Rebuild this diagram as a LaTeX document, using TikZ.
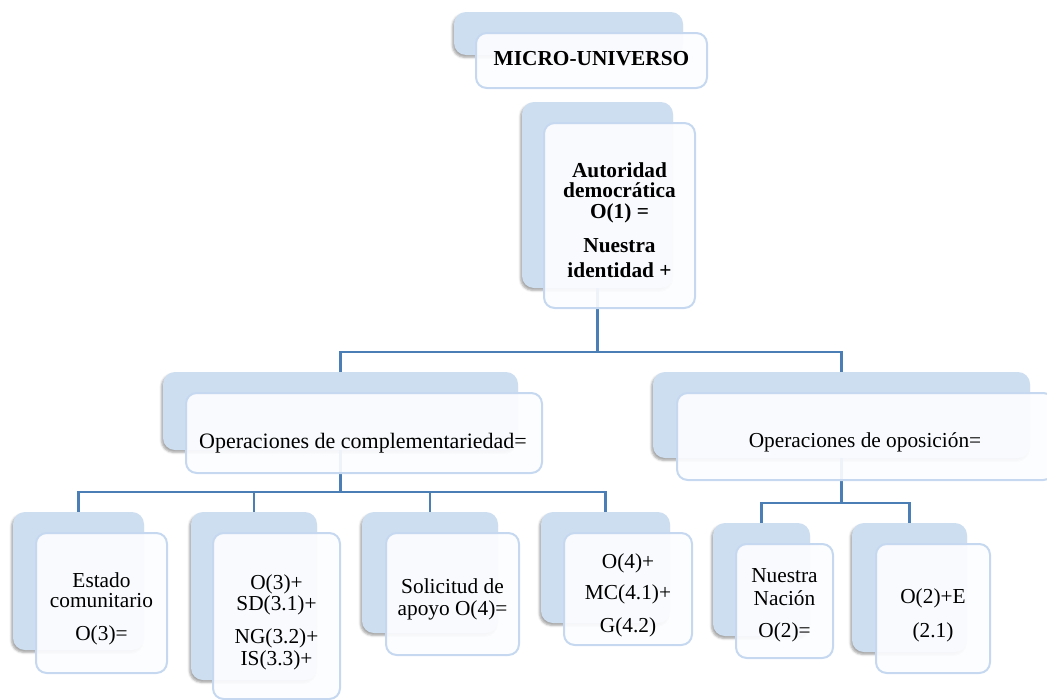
\documentclass[tikz,border=0pt]{standalone}
\usepackage{fontspec}
\setmainfont{Liberation Serif}
\usetikzlibrary{shadows.blur}

\definecolor{backblue}{RGB}{205,222,240}
\definecolor{edgeblue}{RGB}{197,216,240}
\definecolor{linkblue}{RGB}{74,126,180}
\definecolor{frontfill}{RGB}{252,253,255}

\tikzset{
  panel/.style={inner sep=0pt, outer sep=0pt, anchor=north west, rectangle},
  backbox/.style={panel, fill=backblue, rounded corners=9pt,
    blur shadow={shadow xshift=-1.2pt, shadow yshift=-1.8pt,
                 shadow blur radius=1.6pt, shadow opacity=35}},
  frontbox/.style={panel, fill=frontfill, fill opacity=0.92, draw=edgeblue,
    line width=1.5pt, rounded corners=8pt},
  link/.style={draw=linkblue, line width=2pt},
  lbl/.style={anchor=base, inner sep=0pt, font=\fontsize{16pt}{19pt}\selectfont},
  blbl/.style={lbl, font=\fontsize{16pt}{19pt}\selectfont\bfseries},
}

% \panel{name}{style}{x1}{y1}{x2}{y2}: a box from its top-left to bottom-right corner
\newcommand{\panel}[6]{%
  \node[#2, minimum width={(#5-#3)*0.75pt}, minimum height={(#6-#4)*0.75pt}]
    (#1) at (#3,#4) {};}

\begin{document}
\begin{tikzpicture}[x=0.75pt, y=-0.75pt]
\clip (0,0) rectangle (1047,700);

% back panels
\panel{mu-back}{backbox}{454}{12}{683}{55}
\panel{root-back}{backbox}{522}{102}{673}{288}
\panel{comp-back}{backbox}{163}{372}{518}{450}
\panel{opp-back}{backbox}{653}{372}{1030}{458}
\panel{e-back}{backbox}{13}{512}{144}{650}
\panel{s-back}{backbox}{191}{512}{317}{680}
\panel{a-back}{backbox}{362}{512}{498}{633}
\panel{m-back}{backbox}{541}{512}{670}{623}
\panel{n-back}{backbox}{713}{523}{810}{636}
\panel{x-back}{backbox}{852}{523}{967}{652}

% connectors
\draw[link] (root-back.south) -- ++(0,64) coordinate (hubA);
\draw[link] (hubA) -| (comp-back.north);
\draw[link] (hubA) -| (opp-back.north);
\draw[link] (comp-back.south) -- ++(0,42) coordinate (hubB);
\draw[link] (hubB) -| (e-back.north);
\draw[link] (hubB) -| (s-back.north);
\draw[link] (hubB) -| (a-back.north);
\draw[link] (hubB) -| (m-back.north);
\draw[link] (opp-back.south) -- ++(0,45) coordinate (hubC);
\draw[link] (hubC) -| (n-back.north);
\draw[link] (hubC) -| (x-back.north);

% front panels
\panel{mu-front}{frontbox}{476}{33}{707}{88}
\panel{root-front}{frontbox}{544}{123}{695}{308}
\panel{comp-front}{frontbox}{186}{393}{542}{473}
\panel{opp-front}{frontbox}{677}{393}{1054}{480}
\panel{e-front}{frontbox}{36}{533}{167}{673}
\panel{s-front}{frontbox}{213}{533}{340}{699}
\panel{a-front}{frontbox}{386}{533}{519}{655}
\panel{m-front}{frontbox}{564}{533}{692}{645}
\panel{n-front}{frontbox}{736}{544}{833}{658}
\panel{x-front}{frontbox}{876}{544}{990}{673}

% labels
\node[blbl] (mu-t) at (591.5,65) {MICRO-UNIVERSO};

\node[blbl] (root-t1) at (619.5,177) {Autoridad};
\node[blbl] (root-t2) at (619.5,197) {democrática};
\node[blbl] (root-t3) at (619.5,218) {O(1) =};
\node[blbl] (root-t4) at (619.5,252) {Nuestra};
\node[blbl] (root-t5) at (619.5,277) {identidad +};

\node[lbl, font=\fontsize{16.5pt}{19pt}\selectfont] (comp-t) at (363,448) {Operaciones de complementariedad=};
\node[lbl] (opp-t) at (865,447) {Operaciones de oposición=};

\node[lbl] (e-t1) at (101.5,587) {Estado};
\node[lbl] (e-t2) at (101.5,607) {comunitario};
\node[lbl] (e-t3) at (101.5,640) {O(3)=};

\node[lbl] (s-t1) at (276.5,589) {O(3)+};
\node[lbl] (s-t2) at (276.5,610) {SD(3.1)+};
\node[lbl] (s-t3) at (276.5,643) {NG(3.2)+};
\node[lbl] (s-t4) at (276.5,665) {IS(3.3)+};

\node[lbl] (a-t1) at (452.5,593) {Solicitud de};
\node[lbl] (a-t2) at (452.5,615) {apoyo O(4)=};

\node[lbl] (m-t1) at (628,568) {O(4)+};
\node[lbl] (m-t2) at (628,599) {MC(4.1)+};
\node[lbl] (m-t3) at (628,632) {G(4.2)};

\node[lbl] (n-t1) at (784.5,582) {Nuestra};
\node[lbl] (n-t2) at (784.5,605) {Nación};
\node[lbl] (n-t3) at (784.5,637) {O(2)=};

\node[lbl] (x-t1) at (933,603) {O(2)+E};
\node[lbl] (x-t2) at (933,637) {(2.1)};
\end{tikzpicture}
\end{document}
